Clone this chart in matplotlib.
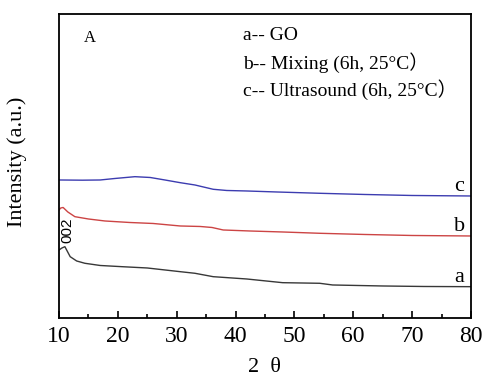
import matplotlib
matplotlib.use("Agg")
import matplotlib.pyplot as plt
from matplotlib.ticker import MultipleLocator

plt.rcParams['font.family'] = ['Liberation Serif', 'Noto Sans CJK SC']

# curve a -- GO
two_theta_a = [10, 10.5, 11.0, 11.9, 13, 14.4, 17, 20.7, 25, 30.6, 33.1, 36.2, 41.9, 48, 54.3, 56.5, 65, 72, 80]
intensity_a = [68, 70, 71.3, 61.3, 57, 54.7, 52.5, 51.3, 50, 46.3, 44.7, 41.3, 39, 35.3, 34.7, 33, 32, 31.5, 31.3]

# curve b -- Mixing
two_theta_b = [10, 10.3, 10.7, 11.5, 12.7, 15, 17.8, 22, 26, 30.6, 34, 36, 37.9, 42.4, 48, 54.3, 62, 70, 80]
intensity_b = [108, 110, 110.5, 106, 101.3, 99, 97, 95.5, 94.5, 92, 91.5, 90.5, 88, 87, 86, 84.7, 83.5, 82.5, 82]

# curve c -- Ultrasound
two_theta_c = [10, 14, 17, 19.5, 22.9, 25.5, 28, 30.6, 33.1, 36.2, 38.5, 41.9, 47, 54.3, 62, 70, 80]
intensity_c = [138, 137.8, 138, 139.5, 141.3, 140.5, 138, 135.3, 133, 128.7, 127.5, 127, 126, 124.7, 123.5, 122.5, 122]

legend_lines = ["a-- GO",
                "b-- Mixing (6h, 25°C）",
                "c-- Ultrasound (6h, 25°C）"]

fig = plt.figure(figsize=(4.86, 3.81), dpi=100)
ax = fig.add_axes([0.1214, 0.1654, 0.969 - 0.1214, 0.9633 - 0.1654])

ax.plot(two_theta_a, intensity_a, color='#383838', lw=1.0)
ax.plot(two_theta_b, intensity_b, color='#cc4444', lw=1.0)
ax.plot(two_theta_c, intensity_c, color='#3c3cb0', lw=1.0)

ax.set_xlim(10, 80)
ax.set_ylim(0, 304)
ax.xaxis.set_major_locator(MultipleLocator(10))
ax.xaxis.set_minor_locator(MultipleLocator(5))
ax.tick_params(axis='x', which='major', direction='in', length=5, width=1.2,
               labelsize=17, pad=6, top=False)
ax.tick_params(axis='x', which='minor', direction='in', length=3, width=1.2, top=False)
ax.set_yticks([])
for s in ax.spines.values():
    s.set_linewidth(1.3)

ax.set_xlabel("2  θ", fontsize=16, labelpad=8)
ax.set_ylabel("Intensity (a.u.)", fontsize=16)
ax.yaxis.set_label_coords(-0.077, 0.515)

# curve labels
ax.text(77.2, 31.3, "a", fontsize=16, ha='left', va='bottom')
ax.text(77.2, 82, "b", fontsize=16, ha='left', va='bottom')
ax.text(77.2, 122, "c", fontsize=16, ha='left', va='bottom')

ax.text(11.5, 88, "002", fontsize=11, rotation=90, ha='center', va='center',
        family='Liberation Sans')

ax.text(14.2, 280, "A", fontsize=12, ha='left', va='center')
for i, t in enumerate(legend_lines):
    ax.text(41.2, 282 - i * 27, t, fontsize=14, ha='left', va='center')

fig.savefig("out.png", dpi=100)
